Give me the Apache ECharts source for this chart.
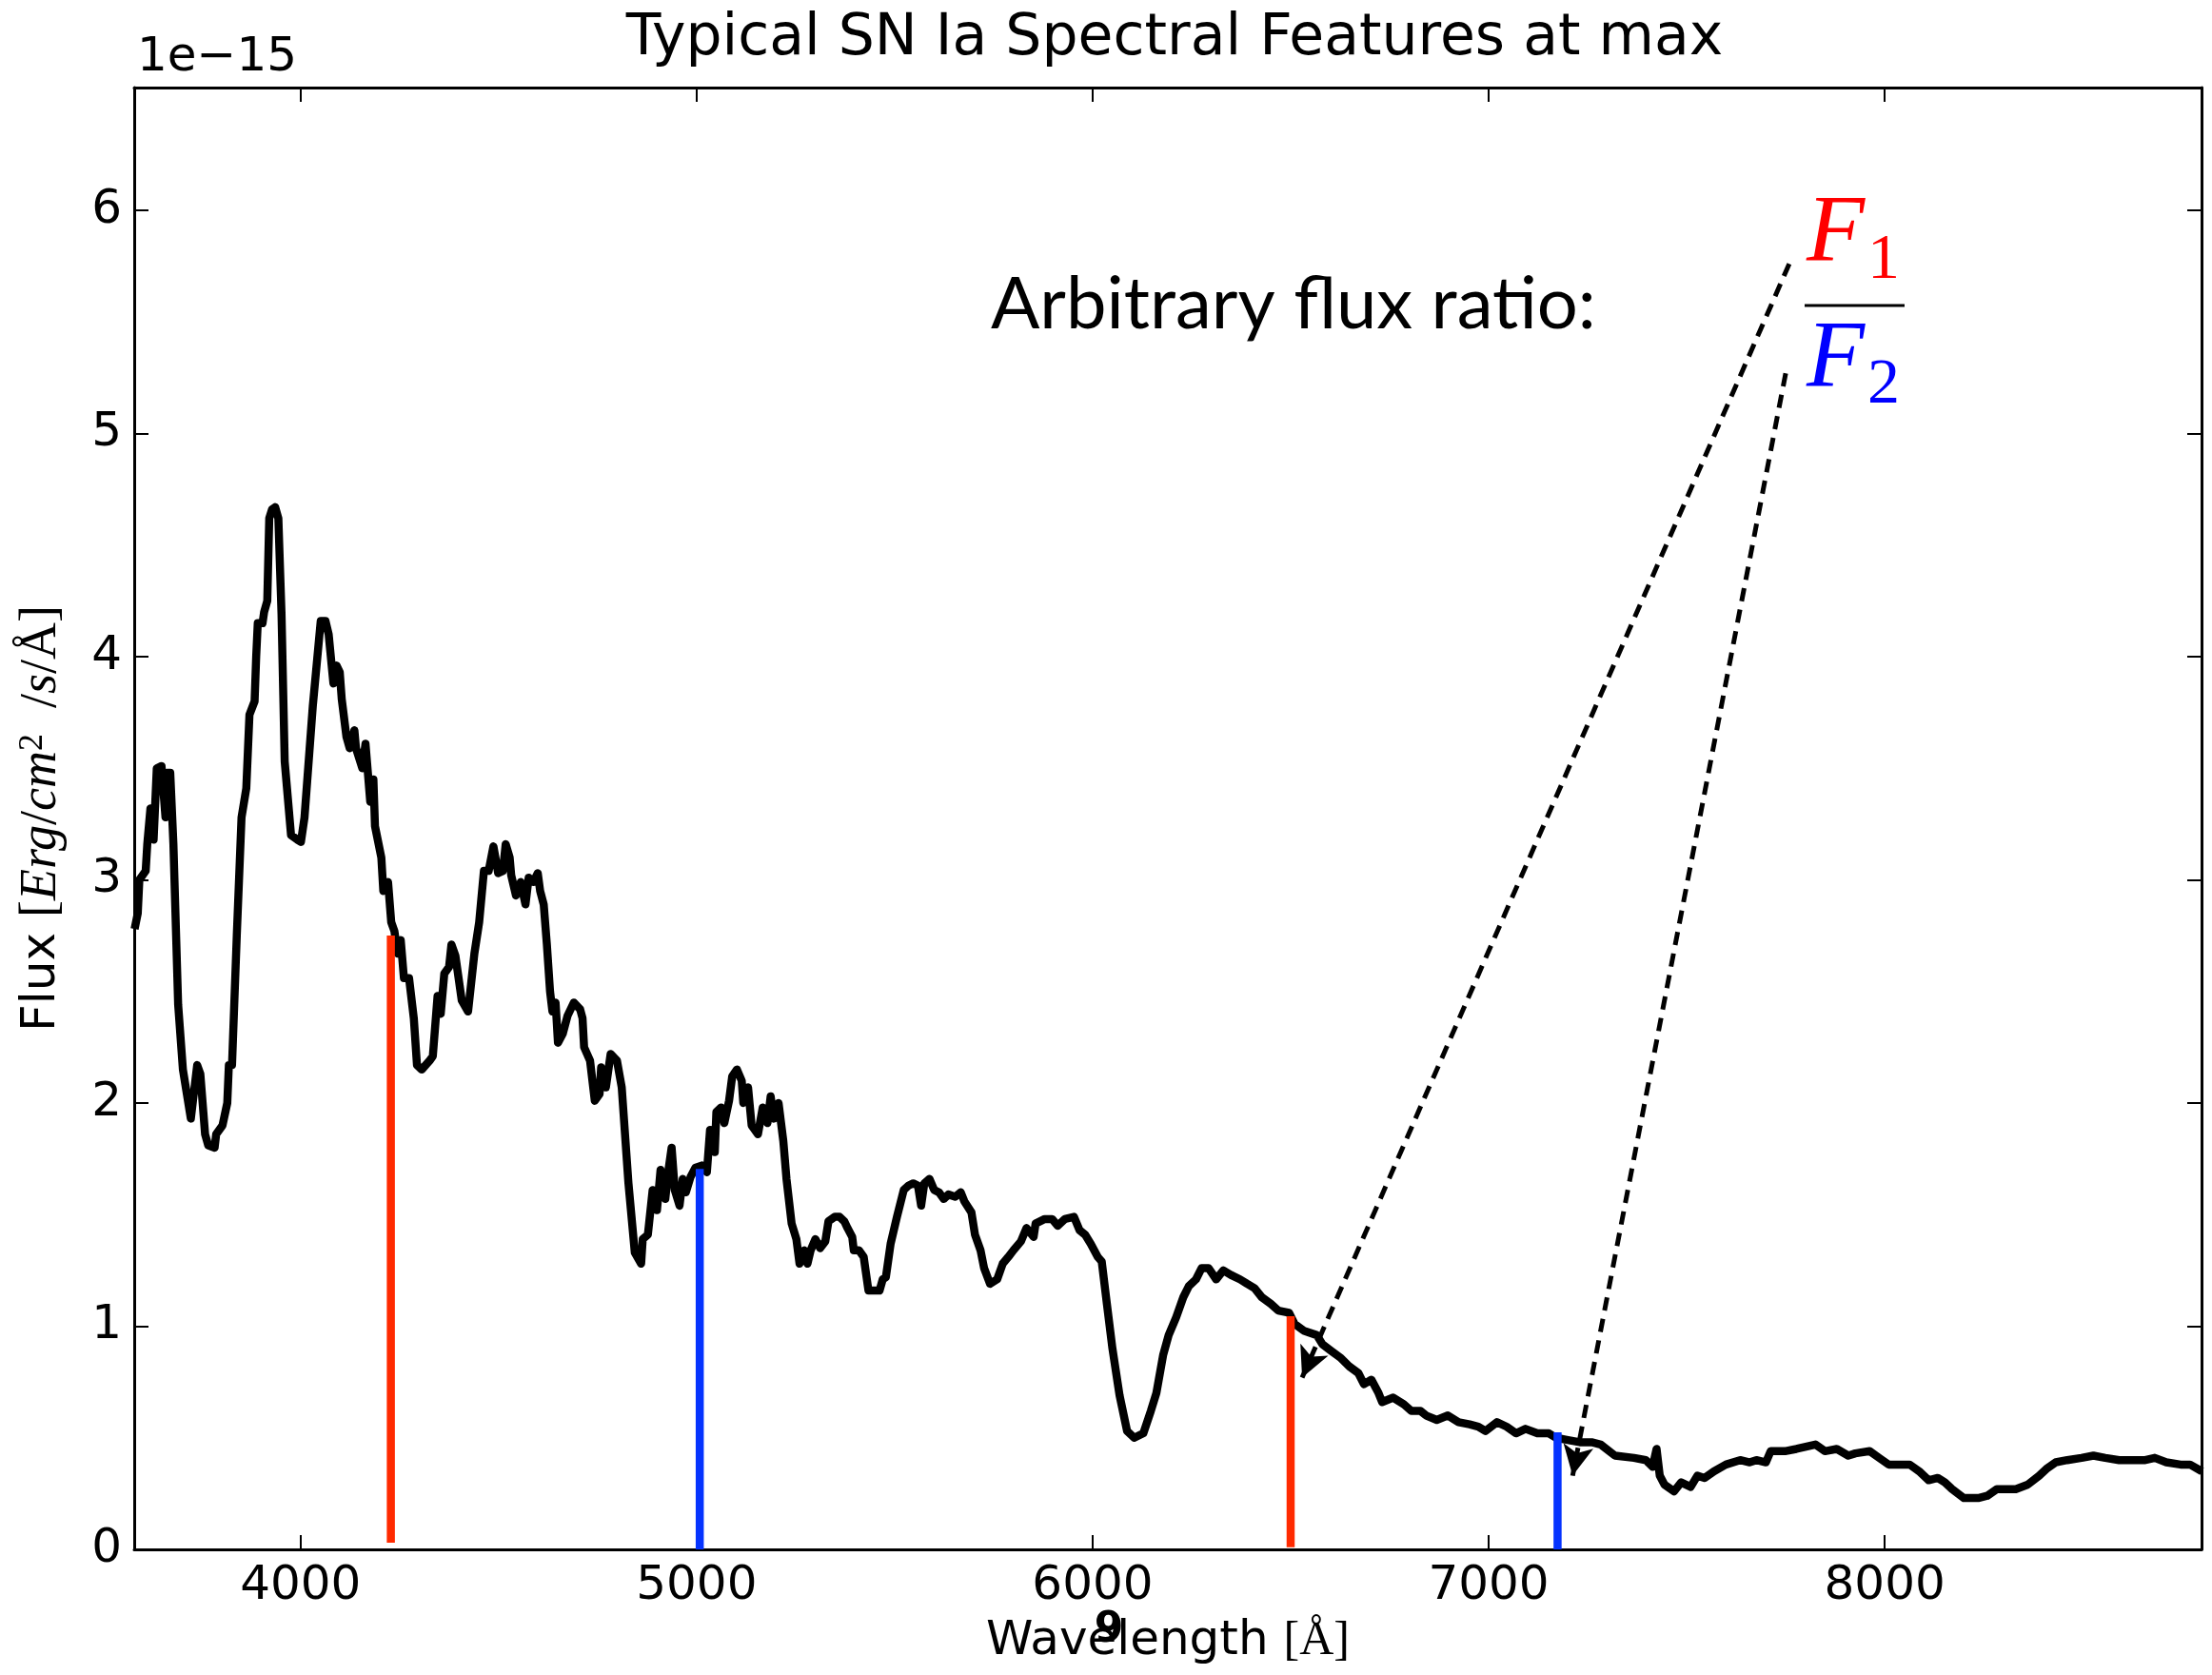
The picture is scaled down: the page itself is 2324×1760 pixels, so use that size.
<!DOCTYPE html>
<html>
<head>
<meta charset="utf-8">
<script src="https://cdn.jsdelivr.net/npm/echarts@6/dist/echarts.min.js"></script>
<style>html,body{margin:0;padding:0;background:#fff}#chart{width:2324px;height:1760px}</style>
</head>
<body>
<div id="chart"></div>
<script>
// Spectrum: wavelength [Å] and flux [1e-15 erg/cm^2/s/Å]
const wave = [3581,3589,3593,3609,3613,3621,3629,3637,3649,3659,3663,3671,3679,3691,3703,3723,3739,3747,3759,3767,3783,3787,3803,3815,3819,3827,3839,3851,3863,3871,3884,3888,3892,3904,3908,3916,3921,3928,3936,3944,3952,3960,3976,3992,4001,4010,4031,4051,4063,4071,4083,4091,4099,4104,4116,4124,4136,4140,4156,4164,4176,4184,4188,4204,4209,4221,4229,4237,4245,4253,4261,4274,4286,4294,4306,4326,4334,4346,4354,4363,4375,4381,4391,4407,4423,4439,4451,4463,4475,4487,4499,4511,4518,4528,4532,4544,4556,4568,4576,4588,4599,
4605,4614,4622,4630,4636,4644,4650,4662,4674,4690,4706,4712,4716,4731,4743,4755,4759,4771,4783,4799,4811,4828,4844,4860,4864,4877,4889,4900,4909,4921,4929,4937,4945,4957,4965,4973,4985,4997,5013,5026,5034,5046,5050,5062,5070,5082,5090,5102,5114,5118,5130,5139,5155,5167,5179,5187,5195,5207,5219,5227,5240,5252,5260,5272,5280,5288,5300,5312,5325,5333,5349,5361,5373,5381,5393,5397,5410,5422,5434,5462,5470,5478,5490,5506,5523,5535,5547,5559,5567,5575,5588,5600,5612,5624,5636,
5653,5667,5676,5694,5703,5717,5726,5741,5759,5773,5787,5800,5819,5833,5851,5856,5879,5898,5912,5930,5953,5967,5981,5995,6013,6023,6036,6050,6068,6087,6105,6128,6147,6161,6178,6192,6211,6229,6243,6261,6275,6293,6312,6330,6349,6372,6390,6409,6427,6450,6469,6496,6510,6533,6566,6580,6602,6625,6648,6671,6685,6704,6722,6731,6759,6786,6805,6828,6842,6869,6897,6924,6952,
6974,6992,7021,7045,7069,7093,7123,7152,7170,7200,7230,7260,7283,7319,7367,7397,7414,7424,7432,7444,7468,7486,7510,7527,7545,7569,7599,7635,7659,7676,7700,7712,7748,7777,7801,7825,7849,7879,7908,7926,7962,7986,8010,8033,8063,8087,8111,8134,8152,8170,8200,8236,8259,8283,8331,8361,8390,8408,8432,8461,8497,8527,8557,8592,8628,8658,8682,8711,8747,8771,8801];
const flux = [2.78,2.85,3.00,3.04,3.16,3.32,3.18,3.50,3.51,3.28,3.48,3.48,3.16,2.44,2.15,1.93,2.17,2.13,1.86,1.81,1.80,1.86,1.90,2.00,2.17,2.17,2.75,3.28,3.41,3.74,3.80,4.00,4.15,4.15,4.20,4.25,4.62,4.66,4.67,4.62,4.19,3.53,3.20,3.18,3.17,3.28,3.78,4.16,4.16,4.10,3.88,3.96,3.93,3.81,3.64,3.59,3.67,3.59,3.50,3.61,3.35,3.45,3.24,3.10,2.95,2.99,2.81,2.77,2.67,2.73,2.56,2.56,2.38,2.17,2.15,2.19,2.21,2.48,2.40,2.58,2.61,2.71,2.66,2.46,2.41,2.67,2.81,3.04,3.04,3.15,3.03,3.04,3.16,3.10,3.02,2.93,2.99,2.89,3.01,2.99,3.03,
2.95,2.89,2.71,2.50,2.41,2.45,2.27,2.31,2.39,2.45,2.42,2.38,2.25,2.19,2.01,2.04,2.16,2.07,2.22,2.19,2.07,1.64,1.33,1.28,1.39,1.41,1.61,1.52,1.70,1.57,1.70,1.80,1.61,1.54,1.66,1.60,1.67,1.71,1.72,1.69,1.88,1.78,1.96,1.98,1.91,2.01,2.12,2.15,2.10,2.00,2.07,1.90,1.86,1.98,1.91,2.03,1.93,2.00,1.83,1.66,1.46,1.39,1.28,1.34,1.28,1.34,1.39,1.35,1.38,1.47,1.49,1.49,1.47,1.44,1.40,1.34,1.34,1.31,1.16,1.16,1.21,1.22,1.37,1.49,1.61,1.63,1.64,1.63,1.54,1.64,1.66,1.61,1.60,1.57,1.59,
1.58,1.60,1.56,1.51,1.41,1.34,1.26,1.19,1.21,1.28,1.31,1.34,1.38,1.44,1.40,1.46,1.48,1.48,1.45,1.48,1.49,1.43,1.41,1.37,1.31,1.29,1.10,0.90,0.69,0.53,0.50,0.52,0.62,0.70,0.87,0.96,1.04,1.13,1.18,1.21,1.26,1.26,1.21,1.25,1.23,1.21,1.19,1.17,1.13,1.10,1.07,1.06,1.01,0.98,0.96,0.92,0.89,0.86,0.82,0.79,0.74,0.76,0.70,0.66,0.68,0.65,0.62,0.62,0.60,0.58,0.60,0.57,0.56,
0.55,0.53,0.57,0.55,0.52,0.54,0.52,0.52,0.50,0.49,0.48,0.48,0.47,0.42,0.41,0.40,0.37,0.45,0.33,0.29,0.26,0.30,0.28,0.33,0.32,0.35,0.38,0.40,0.39,0.40,0.39,0.44,0.44,0.45,0.46,0.47,0.44,0.45,0.42,0.43,0.44,0.41,0.38,0.38,0.38,0.35,0.31,0.32,0.30,0.27,0.23,0.23,0.24,0.27,0.27,0.29,0.33,0.36,0.39,0.40,0.41,0.42,0.41,0.40,0.40,0.40,0.41,0.39,0.38,0.38,0.35];

// F1 (red) and F2 (blue) flux markers
const f1Wave = [4228, 6500];
const f1Top = [2.75, 1.045];
const f1Bottom = [0.03, 0.01];
const f2Wave = [5008, 7174];
const f2Top = [1.705, 0.525];
const f2Bottom = [0, 0];

// Annotation arrows (start -> tip, data units)
const arrowStartWave = [7759, 7750];
const arrowStartFlux = [5.76, 5.27];
const arrowEndWave = [6529, 7212];
const arrowEndFlux = [0.77, 0.33];

// Axis ticks
const xTicks = [4000, 5000, 6000, 7000, 8000];
const yTicks = [0, 1, 2, 3, 4, 5, 6];
const xMin = 3580, xMax = 8800, yMin = 0, yMax = 6.55;

const chart = echarts.init(document.getElementById('chart'), null, {renderer: 'canvas'});

const tickStyle = {inside: true, length: 15, lineStyle: {color: '#000', width: 2}};
const lineAxis = {onZero: false, lineStyle: {color: '#000', width: 3}};
const labelFont = {fontSize: 50, color: '#000', fontFamily: 'DejaVu Sans'};
const plainNum = v => String(v);

const series = [];
series.push({
  type: 'line', name: 'spectrum',
  data: wave.map((w, i) => [w, flux[i]]),
  symbol: 'none', z: 3,
  lineStyle: {color: '#000', width: 8.5, join: 'round'},
  markLine: {
    silent: true, animation: false,
    symbol: ['none', 'arrow'], symbolSize: [24, 32],
    label: {show: false},
    lineStyle: {color: '#000', width: 5, type: [14, 9]},
    data: arrowStartWave.map((w, i) => [
      {coord: [w, arrowStartFlux[i]]},
      {coord: [arrowEndWave[i], arrowEndFlux[i]]}
    ])
  }
});
f1Wave.forEach((w, i) => series.push({
  type: 'line', symbol: 'none', z: 4,
  data: [[w, f1Bottom[i]], [w, f1Top[i]]],
  lineStyle: {color: '#ff2a00', width: 8.5, cap: 'butt'}
}));
f2Wave.forEach((w, i) => series.push({
  type: 'line', symbol: 'none', z: 4,
  data: [[w, f2Bottom[i]], [w, f2Top[i]]],
  lineStyle: {color: '#0533ff', width: 8.5, cap: 'butt'}
}));

const option = {
  animation: false,
  backgroundColor: '#fff',
  title: {
    text: 'Typical SN Ia Spectral Features at max',
    left: 1229, top: 6, textAlign: 'center',
    textStyle: {fontSize: 60, fontWeight: 'normal', fontFamily: 'DejaVu Sans', color: '#000'}
  },
  grid: {left: 141, right: 11, top: 92, bottom: 132, containLabel: false},
  xAxis: [
    {
      type: 'value', min: xMin, max: xMax, position: 'bottom',
      axisLine: lineAxis,
      axisTick: Object.assign({customValues: xTicks}, tickStyle),
      axisLabel: Object.assign({customValues: xTicks, margin: 14, formatter: plainNum}, labelFont),
      splitLine: {show: false},
      name: 'Wavelength {a|[Å]}', nameLocation: 'middle', nameGap: 72,
      nameTextStyle: Object.assign({rich: {a: {fontSize: 50, fontFamily: 'Liberation Serif', color: '#000'}}}, labelFont)
    },
    {
      type: 'value', min: xMin, max: xMax, position: 'top',
      axisLine: lineAxis,
      axisTick: Object.assign({customValues: xTicks}, tickStyle),
      axisLabel: {show: false}, splitLine: {show: false}
    }
  ],
  yAxis: [
    {
      type: 'value', min: yMin, max: yMax, position: 'left',
      axisLine: lineAxis,
      axisTick: Object.assign({customValues: yTicks}, tickStyle),
      axisLabel: Object.assign({customValues: yTicks, margin: 13, formatter: plainNum}, labelFont),
      splitLine: {show: false},
      name: '{s|Flux }{m|[}{i|Erg}{m|/}{i|cm}{sup|2}{m|  /}{i|s}{m|/Å]}',
      nameLocation: 'middle', nameRotate: 90, nameGap: 70,
      nameTextStyle: {
        color: '#000',
        rich: {
          s: {fontSize: 50, fontFamily: 'DejaVu Sans', color: '#000'},
          m: {fontSize: 54, fontFamily: 'Liberation Serif', color: '#000'},
          i: {fontSize: 54, fontFamily: 'Liberation Serif', fontStyle: 'italic', color: '#000'},
          sup: {fontSize: 36, fontFamily: 'Liberation Serif', verticalAlign: 'top', padding: [0, 0, 18, 0], color: '#000'}
        }
      }
    },
    {
      type: 'value', min: yMin, max: yMax, position: 'right',
      axisLine: lineAxis,
      axisTick: Object.assign({customValues: yTicks}, tickStyle),
      axisLabel: {show: false}, splitLine: {show: false}
    }
  ],
  series: series,
  graphic: [
    {type: 'text', x: 144, y: 61, style: {text: '1e\u221215', fontSize: 50, fontFamily: 'DejaVu Sans', fill: '#000', align: 'left', verticalAlign: 'middle'}},
    {type: 'text', x: 1041, y: 320, style: {text: 'Arbitrary flux ratio:', fontSize: 76, fontFamily: 'Lato', fill: '#000', align: 'left', verticalAlign: 'middle'}},
    {type: 'text', x: 1898, y: 247, style: {text: 'F', fontSize: 100, fontFamily: 'Liberation Serif', fontStyle: 'italic', fill: '#ff0000', align: 'left', verticalAlign: 'middle'}},
    {type: 'text', x: 1962, y: 274, style: {text: '1', fontSize: 68, fontFamily: 'Liberation Serif', fill: '#ff0000', align: 'left', verticalAlign: 'middle'}},
    {type: 'line', shape: {x1: 1896, y1: 321, x2: 2001, y2: 321}, style: {stroke: '#000', lineWidth: 3}},
    {type: 'text', x: 1898, y: 379, style: {text: 'F', fontSize: 100, fontFamily: 'Liberation Serif', fontStyle: 'italic', fill: '#0000ff', align: 'left', verticalAlign: 'middle'}},
    {type: 'text', x: 1962, y: 405, style: {text: '2', fontSize: 68, fontFamily: 'Liberation Serif', fill: '#0000ff', align: 'left', verticalAlign: 'middle'}},
    {type: 'text', x: 1165, y: 1714, style: {text: '9', fontSize: 44, fontFamily: 'DejaVu Sans', fontWeight: 'bold', fill: '#000', align: 'center', verticalAlign: 'middle'}}
  ]
};
chart.setOption(option);
</script>
</body>
</html>
